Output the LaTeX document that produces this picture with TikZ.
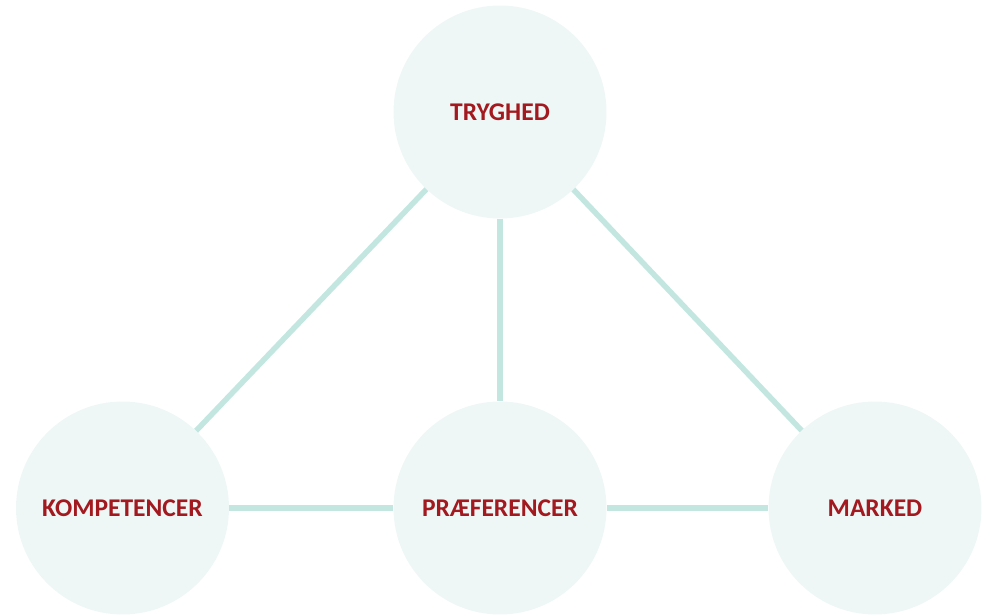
\documentclass[tikz,border=0pt]{standalone}
\usepackage{fontspec}
\setmainfont{Carlito}
\usetikzlibrary{positioning}
\definecolor{bubble}{HTML}{EEF7F6}
\definecolor{link}{HTML}{C3E7E0}
\definecolor{label}{HTML}{A2191F}
\tikzset{
  theme/.style={circle,fill=bubble,minimum size=213pt,inner sep=0pt,
    text=label,font=\fontsize{25.5}{28}\selectfont\bfseries},
  tie/.style={link,line width=5.5pt}
}
\begin{document}
\begin{tikzpicture}[x=1pt,y=1pt]
\useasboundingbox (0,0) rectangle (986,614);
\node[theme] (T) at (500,502) {TRYGHED};
\node[theme] (K) at (122.5,106) {KOMPETENCER};
\node[theme] (P) at (500,106) {PRÆFERENCER};
\node[theme] (M) at (875,106) {MARKED};
\foreach \a/\b in {T/K,T/P,T/M,K/P,P/M}
  \draw[tie] (\a) -- (\b);
\end{tikzpicture}
\end{document}
